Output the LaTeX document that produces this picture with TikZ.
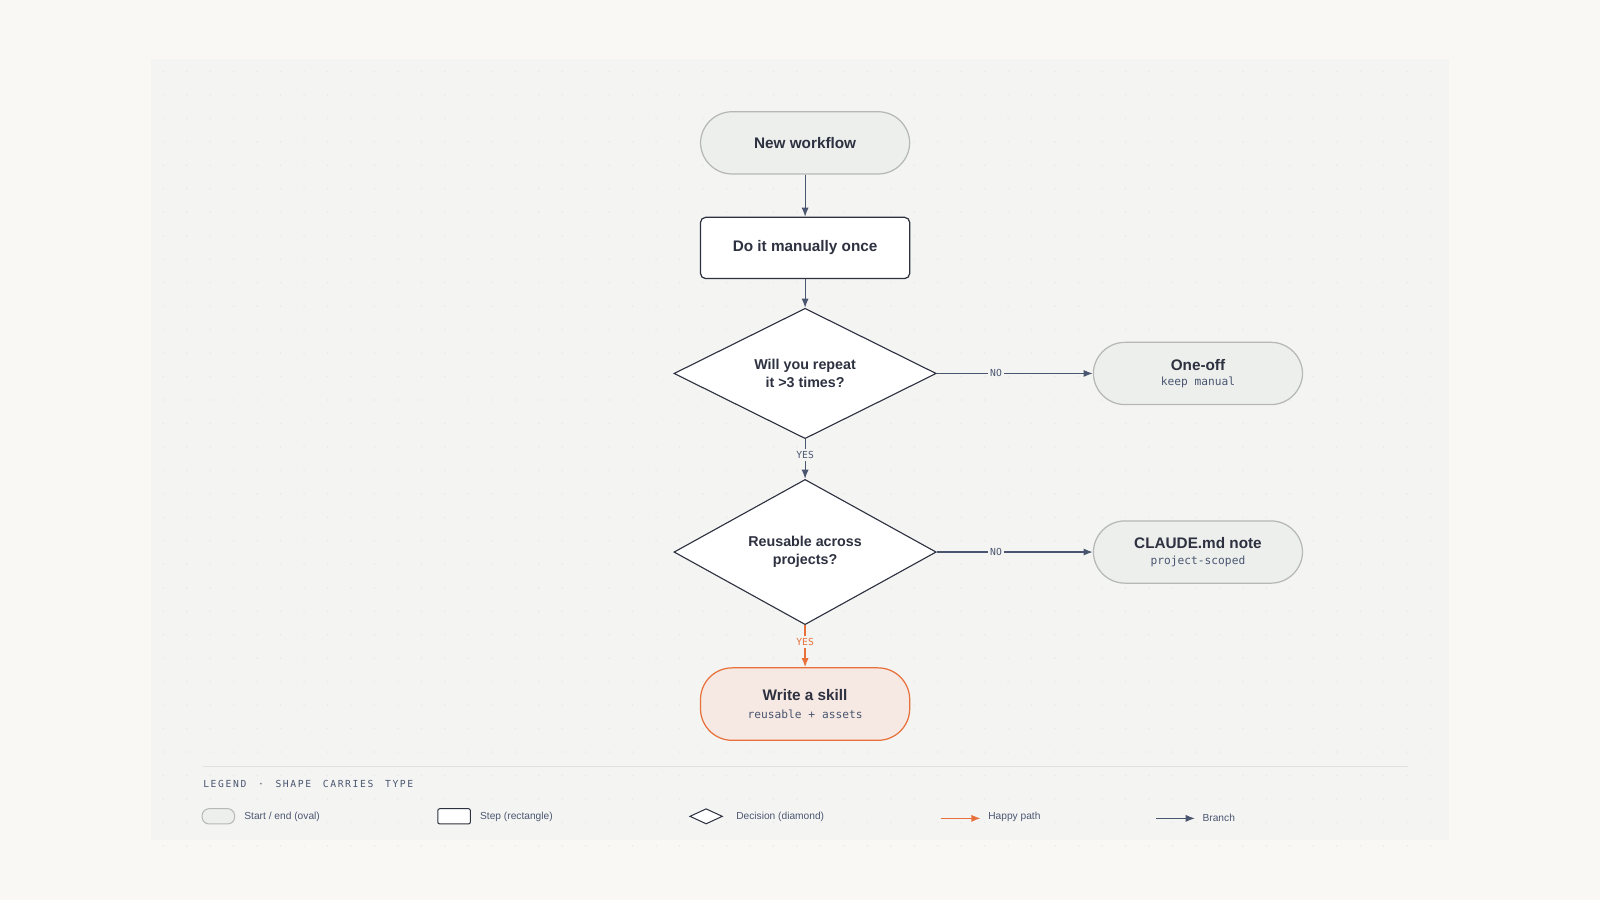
\documentclass[tikz,border=0pt]{standalone}
\usepackage{fontspec}
\setmainfont{Liberation Sans}
\setmonofont{DejaVu Sans Mono}
\usetikzlibrary{positioning,shapes.geometric,arrows.meta}
\definecolor{pagebg}{HTML}{F9F8F5}
\definecolor{panelbg}{HTML}{F4F4F3}
\definecolor{ink}{HTML}{2D3140}
\definecolor{slate}{HTML}{4A5670}
\definecolor{ovalfill}{HTML}{EDEFED}
\definecolor{ovaldraw}{HTML}{B5B8B6}
\definecolor{happy}{HTML}{E8703A}
\definecolor{happyfill}{HTML}{F6E8E2}
\newcommand{\subtxt}[1]{{\mdseries\ttfamily\fontsize{11}{14}\selectfont\color{slate}#1}}
\begin{document}
\begin{tikzpicture}[x=1pt,y=-1pt,
  oval/.style={draw=ovaldraw,fill=ovalfill,rounded corners=31pt,line width=1.2pt,minimum width=205pt,minimum height=61pt,align=center,text=ink,font=\bfseries\fontsize{15}{18}\selectfont},
  stepbox/.style={draw=ink,fill=white,rounded corners=5pt,line width=1.2pt,minimum width=205pt,minimum height=60pt,text=ink,font=\bfseries\fontsize{15}{18}\selectfont},
  decision/.style={diamond,draw=ink,fill=white,line width=1.1pt,minimum width=257pt,minimum height=122pt,inner sep=0pt,align=center,text=ink,font=\bfseries\fontsize{14}{18}\selectfont},
  branch/.style={draw=slate,line width=1.2pt,-{Latex[length=9pt,width=7pt]}},
  happypath/.style={draw=happy,line width=1.4pt,-{Latex[length=9pt,width=7pt]}},
  tag/.style={fill=panelbg,inner sep=2pt,font=\ttfamily\fontsize{9.5}{11}\selectfont,text=slate},
  legtext/.style={anchor=west,font=\fontsize{10}{12}\selectfont,text=slate}]
\useasboundingbox[fill=pagebg] (0,0) rectangle (1568,882);
\fill[panelbg] (148,58) rectangle (1420,823);
% dot grid
\foreach \i in {0,...,54} {\foreach \j in {0,...,33} {
  \fill[black!9] (160+23*\i,70+23*\j) circle (0.8pt);}}

\node[oval] (start) at (789,140) {New workflow};
\node[stepbox] (manual) at (789,243) {Do it manually once};
\node[decision] (repeat) at (789,366) {Will you repeat\\it >3 times?};
\node[oval] (oneoff) at (1174,366) {One-off\\[-3pt]\subtxt{keep manual}};
\node[decision] (reuse) at (789,541) {Reusable across\\projects?};
\node[oval] (note) at (1174,541) {CLAUDE.md note\\[-3pt]\subtxt{project-scoped}};
\node[oval,draw=happy,fill=happyfill,minimum height=71pt] (skill) at (789,690) {Write a skill\\[-1pt]\subtxt{reusable + assets}};

\draw[branch] (start) -- (manual);
\draw[branch] (manual) -- (repeat);
\draw[branch] (repeat) -- node[tag,pos=0.38] {NO} (oneoff);
\draw[branch] (repeat) -- node[tag,pos=0.4] {YES} (reuse);
\draw[branch] (reuse) -- node[tag,pos=0.38] {NO} (note);
\draw[happypath] (reuse) -- node[tag,text=happy,pos=0.4] {YES} (skill);

% legend
\draw[black!12,line width=1pt] (199,751) -- (1380,751);
\node[anchor=west,inner sep=0pt,font=\ttfamily\fontsize{9.5}{11}\selectfont,text=slate] (legtitle) at (199,768) {L\,E\,G\,E\,N\,D \ · \ S\,H\,A\,P\,E \ C\,A\,R\,R\,I\,E\,S \ T\,Y\,P\,E};
\node[draw=ovaldraw,fill=ovalfill,rounded corners=7pt,line width=1pt,minimum width=32pt,minimum height=15pt,inner sep=0pt] (legoval) at (214,800) {};
\node[legtext] at (236,801) {Start / end (oval)};
\node[draw=ink,fill=white,rounded corners=2pt,line width=1pt,minimum width=32pt,minimum height=15pt,inner sep=0pt] (legstep) at (445,800) {};
\node[legtext] at (467,801) {Step (rectangle)};
\node[diamond,draw=ink,fill=white,line width=1pt,minimum width=32pt,minimum height=15pt,inner sep=0pt] (legdec) at (692,800) {};
\node[legtext] at (718,801) {Decision (diamond)};
\coordinate (hapA) at (922,802); \coordinate (hapB) at (961,802);
\draw[happypath] (hapA) -- (hapB);
\node[legtext] at (965,801) {Happy path};
\coordinate (brA) at (1133,802); \coordinate (brB) at (1171,802);
\draw[branch] (brA) -- (brB);
\node[legtext] at (1175,801) {Branch};
\end{tikzpicture}
\end{document}
